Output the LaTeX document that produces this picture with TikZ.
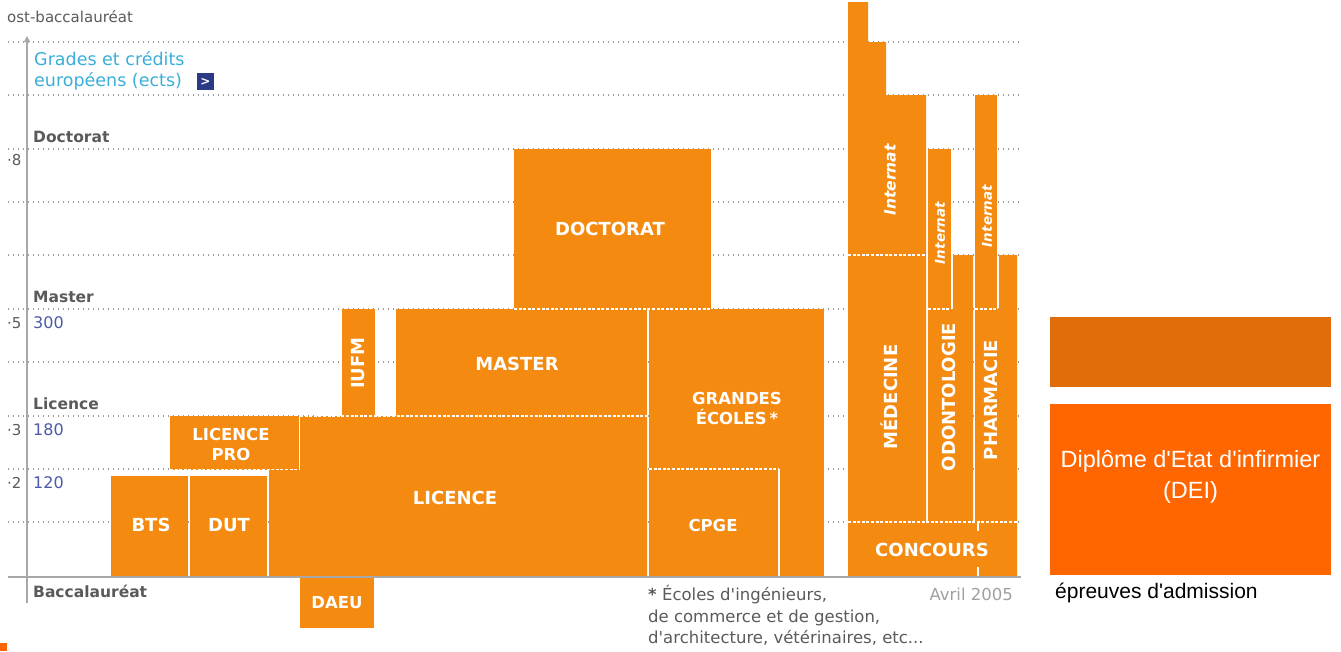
\documentclass[tikz,border=0pt]{standalone}
\usepackage{fontspec}
\setmainfont{DejaVu Sans}
\newfontfamily\arialf{Liberation Sans}
\usetikzlibrary{arrows.meta}
\definecolor{orj}{HTML}{F48A10}
\definecolor{orjdark}{HTML}{E06C0A}
\definecolor{orjbright}{HTML}{FF6600}
\definecolor{axgray}{HTML}{A8A8A8}
\definecolor{labgray}{HTML}{5A5A5A}
\definecolor{lightgray}{HTML}{A0A0A0}
\definecolor{numblue}{HTML}{4A5AA8}
\definecolor{titleblue}{HTML}{3AAED8}
\definecolor{navy}{HTML}{2B3A87}
\definecolor{gridgray}{HTML}{9A9A9A}
\tikzset{
 box/.style={fill=orj},
 blab/.style={text=white, font=\bfseries\fontsize{18}{20}\selectfont, inner sep=0pt, align=center},
 blabs/.style={blab, font=\bfseries\fontsize{16.5}{20}\selectfont},
 vlab/.style={blab, rotate=90},
 intlab/.style={text=white, font=\bfseries\itshape\fontsize{15.5}{16}\selectfont, inner sep=0pt, rotate=90},
 intlabs/.style={intlab, font=\bfseries\itshape\fontsize{13.5}{15}\selectfont},
 gridline/.style={draw=gridgray, line width=1.1pt, dash pattern=on 1.3pt off 3.7pt},
 wdash/.style={draw=white, line width=1.2pt, dash pattern=on 3pt off 1.6pt},
 wline/.style={draw=white, line width=1.3pt},
 axlab/.style={text=labgray, font=\bfseries\fontsize{15.5}{17}\selectfont, anchor=base west, inner sep=0pt},
 ticklab/.style={text=labgray, font=\fontsize{15}{17}\selectfont, anchor=base west, inner sep=0pt},
 numlab/.style={text=numblue, font=\fontsize{16}{17}\selectfont, anchor=base west, inner sep=0pt},
 note/.style={text=labgray, font=\fontsize{16.5}{18}\selectfont, anchor=base west, inner sep=0pt},
 ttl/.style={text=titleblue, font=\fontsize{17.5}{19}\selectfont, anchor=base west, inner sep=0pt},
}
\begin{document}
\begin{tikzpicture}[x=1pt,y=-1pt]
\useasboundingbox (0,0) rectangle (1341,651);
% grid lines
\foreach \yy in {42,95,149,202,255,309,362,416,469,522}
  \draw[gridline] (8,\yy) -- (1020,\yy);
% left labels
\node[ticklab] (post) at (7,22.5) {ost-baccalauréat};
\node[ttl] (ttl1) at (34,65) {Grades et crédits};
\node[ttl] (ttl2) at (34,86) {européens (ects)};
\node[fill=navy, minimum width=17pt, minimum height=17pt, inner sep=0pt, text=white,
      font=\bfseries\fontsize{12}{12}\selectfont] (icon) at (205.5,81.5) {>};
\node[axlab] (ldoc) at (33,142.5) {Doctorat};
\node[axlab] (lmas) at (33,302) {Master};
\node[axlab] (llic) at (33,409) {Licence};
\node[axlab] (lbac) at (33,597) {Baccalauréat};
\node[ticklab] (t8) at (7,165) {·8};
\node[ticklab] (t5) at (7,328) {·5};
\node[ticklab] (t3) at (7,435) {·3};
\node[ticklab] (t2) at (7,488) {·2};
\node[numlab] (n300) at (33,328) {300};
\node[numlab] (n180) at (33,435) {180};
\node[numlab] (n120) at (33,488) {120};
% boxes
\fill[box] (111,476) rectangle (188,576);
\fill[box] (190,476) rectangle (267,576);
\fill[box] (269,576) -- (269,469) -- (300,469) -- (300,416) -- (647,416) -- (647,576) -- cycle;
\fill[box] (170,416) rectangle (300,469.5);
\fill[box] (342,309) rectangle (375,416);
\fill[box] (396,309) rectangle (647,416);
\fill[box] (514,149) rectangle (711,309);
\fill[box] (649,309) rectangle (824,576);
\fill[box] (300,578) rectangle (374,628);
\fill[box] (848,576) -- (848,2) -- (868,2) -- (868,42) -- (886,42) -- (886,95) -- (926,95) -- (926,522) -- (1017,522) -- (1017,576) -- cycle;
\fill[box] (928,149) rectangle (951,309);
\fill[box] (928,522) -- (928,309) -- (953,309) -- (953,255) -- (973,255) -- (973,522) -- cycle;
\fill[box] (975,95) rectangle (997,309);
\fill[box] (975,522) -- (975,309) -- (999,309) -- (999,255) -- (1017,255) -- (1017,522) -- cycle;
% white separations
\draw[wdash] (170,469.5) -- (300,469.5);
\draw[wline] (299.5,416) -- (299.5,470);
\draw[wdash] (300,416) -- (647,416);
\draw[wdash] (514,309) -- (711,309);
\draw[wdash] (649,469) -- (779,469);
\draw[wline] (779,469) -- (779,576);
\draw[wdash] (848,255) -- (926,255);
\draw[wdash] (848,522) -- (1017,522);
\draw[wline] (978,522) -- (978,531);
\draw[wline] (978,567) -- (978,576);
\draw[wdash] (928,309) -- (951,309);
\draw[wdash] (975,309) -- (997,309);
% axes
\draw[axgray, line width=1.8pt] (8,577) -- (1021,577);
\draw[axgray, line width=1.5pt, -{Triangle[width=6pt,length=6pt]}] (27,603) -- (27,36);
% box labels
\node[blab] (bts) at (151,525) {BTS};
\node[blab] (dut) at (229,525) {DUT};
\node[blab] (lic) at (455,498) {LICENCE};
\node[blabs] (lpro) at (231,444) {LICENCE\\PRO};
\node[vlab] (iufm) at (358.5,363) {IUFM};
\node[blab] (mas) at (517,364) {MASTER};
\node[blab] (doc) at (610,229) {DOCTORAT};
\node[blabs] (ge) at (737,408) {GRANDES\\ÉCOLES\,*};
\node[blabs] (cpge) at (713,525) {CPGE};
\node[blabs] (daeu) at (337,603) {DAEU};
\node[vlab] (med) at (889,397) {MÉDECINE};
\node[vlab] (odo) at (949,397) {ODONTOLOGIE};
\node[vlab] (pha) at (991,400) {PHARMACIE};
\node[blab] (conc) at (932,550) {CONCOURS};
\node[intlab] (int1) at (890,180) {Internat};
\node[intlabs] (int2) at (940,233) {Internat};
\node[intlabs] (int3) at (987,216) {Internat};
% footnote
\node[note] (fn1) at (648,600) {\textbf{*} Écoles d\textquotesingle ingénieurs,};
\node[note] (fn2) at (648,622) {de commerce et de gestion,};
\node[note] (fn3) at (648,643) {d\textquotesingle architecture, vétérinaires, etc...};
\node[note, text=lightgray, anchor=base east] (date) at (1013,600) {Avril 2005};
% right panel
\fill[orjdark] (1050,317) rectangle (1331,387);
\fill[orjbright] (1050,404) rectangle (1331,575);
\node[text=white, font=\arialf\fontsize{23.5}{31}\selectfont, align=center, inner sep=0pt] (dei) at (1190.5,477) {Diplôme d\textquotesingle Etat d\textquotesingle infirmier\\(DEI)};
\node[font=\arialf\fontsize{21}{23}\selectfont, anchor=base west, inner sep=0pt] (epr) at (1055,598) {épreuves d\textquotesingle admission};
\fill[orjbright] (0,643) rectangle (7,651);
\end{tikzpicture}
\end{document}
